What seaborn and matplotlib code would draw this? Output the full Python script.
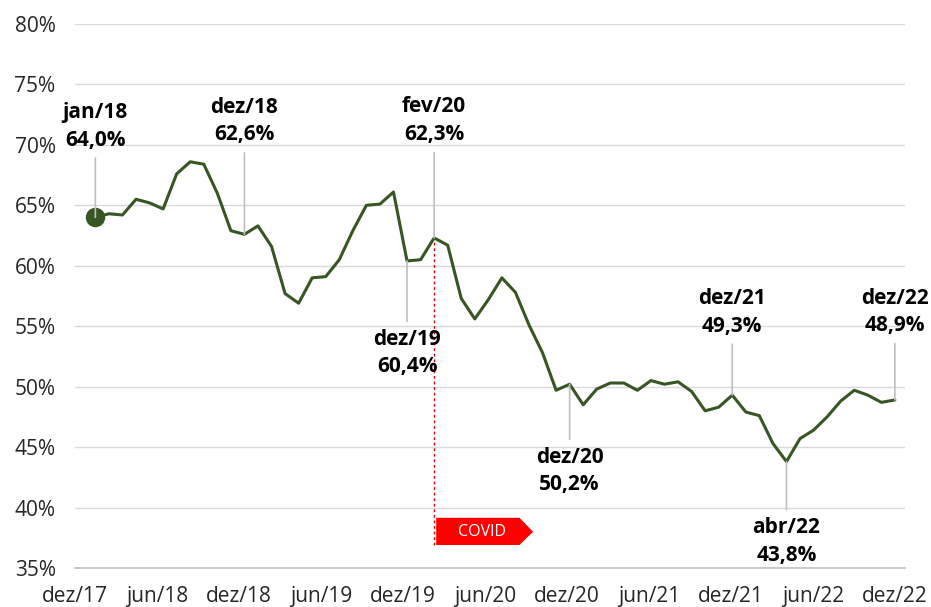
import numpy as np
import pandas as pd
import seaborn as sns
import matplotlib.pyplot as plt
from matplotlib.patches import Polygon

# monthly series, jan/18 .. dez/22 (%)
values_2018 = [64.0, 64.3, 64.2, 65.5, 65.2, 64.7, 67.6, 68.6, 68.4, 66.0, 62.9, 62.6]
values_2019 = [63.3, 61.6, 57.7, 56.9, 59.0, 59.1, 60.5, 62.9, 65.0, 65.1, 66.1, 60.4]
values_2020 = [60.5, 62.3, 61.7, 57.3, 55.6, 57.2, 59.0, 57.8, 55.1, 52.8, 49.7, 50.2]
values_2021 = [48.5, 49.8, 50.3, 50.3, 49.7, 50.5, 50.2, 50.4, 49.6, 48.0, 48.3, 49.3]
values_2022 = [47.9, 47.6, 45.3, 43.8, 45.7, 46.4, 47.5, 48.8, 49.7, 49.3, 48.7, 48.9]

month_names = ["jan", "fev", "mar", "abr", "mai", "jun",
               "jul", "ago", "set", "out", "nov", "dez"]
years = ["18", "19", "20", "21", "22"]

tick_labels = ["dez/17", "jun/18", "dez/18", "jun/19", "dez/19", "jun/20",
               "dez/20", "jun/21", "dez/21", "jun/22", "dez/22"]
y_ticks = [35, 40, 45, 50, 55, 60, 65, 70, 75, 80]

# highlighted months: (label, offset in points; >0 above, <0 below)
highlights = [("jan/18", 48), ("dez/18", 64), ("dez/19", -49), ("fev/20", 67),
              ("dez/20", -45), ("dez/21", 42), ("abr/22", -40), ("dez/22", 46)]
covid_month = "fev/20"

values = values_2018 + values_2019 + values_2020 + values_2021 + values_2022
labels = [f"{m}/{y}" for y in years for m in month_names]
df = pd.DataFrame({"mes": labels, "x": np.arange(1, len(values) + 1), "valor": values})

green = "#375623"
grid_c = "#d9d9d9"
axis_c = "#bfbfbf"
txt_c = "#262626"

sns.set_theme(style="white")
plt.rcParams["font.family"] = ["Open Sans", "DejaVu Sans"]

fig = plt.figure(figsize=(9.31, 6.07), dpi=100)
ax = fig.add_axes([0.0806, 0.0643, 0.8915, 0.8962])

for yv in y_ticks[1:]:
    ax.axhline(yv, color=grid_c, lw=1, zorder=0)

sns.lineplot(data=df, x="x", y="valor", ax=ax, color=green, lw=2.2, zorder=3)
first = df.iloc[0]
ax.plot(first["x"], first["valor"], "o", color=green, ms=13, zorder=4)

# COVID marker
crow = df[df["mes"] == covid_month].iloc[0]
cx = crow["x"]
ax.plot([cx, cx], [36.9, crow["valor"]], color="#e00000", lw=1,
        ls=(0, (2, 2)), zorder=2)
box = Polygon([(cx + 0.15, 36.9), (cx + 6.3, 36.9), (cx + 7.3, 38.0),
               (cx + 6.3, 39.15), (cx + 0.15, 39.15)], closed=True,
              fc="#ff0000", ec="none", zorder=2)
ax.add_patch(box)
ax.text(cx + 3.5, 38.0, "COVID", color="white", fontsize=11.5,
        ha="center", va="center", zorder=3)

for lab, off in highlights:
    row = df[df["mes"] == lab].iloc[0]
    txt = f"{lab}\n{row['valor']:.1f}%".replace(".", ",")
    ax.annotate(txt, xy=(row["x"], row["valor"]), xytext=(0, off),
                textcoords="offset points", ha="center",
                va="bottom" if off > 0 else "top",
                fontsize=15, fontweight="bold", color="black",
                linespacing=1.4, zorder=5,
                arrowprops=dict(arrowstyle="-", color=axis_c, lw=1.2,
                                shrinkA=3, shrinkB=0))

ax.set_xlim(-0.5, 60.75)
ax.set_ylim(35, 80)
ax.set_xticks(np.linspace(-0.5, 60, 11))
ax.set_xticklabels(tick_labels)
ax.set_yticks(y_ticks)
ax.set_yticklabels([f"{v}%" for v in y_ticks])
ax.set_xlabel("")
ax.set_ylabel("")

for s in ["top", "right", "left"]:
    ax.spines[s].set_visible(False)
ax.spines["bottom"].set_color(axis_c)
ax.spines["bottom"].set_linewidth(1.2)
ax.tick_params(axis="x", direction="inout", length=10, width=1,
               color=axis_c, labelsize=15, labelcolor=txt_c, pad=8)
ax.tick_params(axis="y", length=0, labelsize=15, labelcolor=txt_c, pad=14)
ax.set_facecolor("white")

fig.savefig("out.png", dpi=100)
